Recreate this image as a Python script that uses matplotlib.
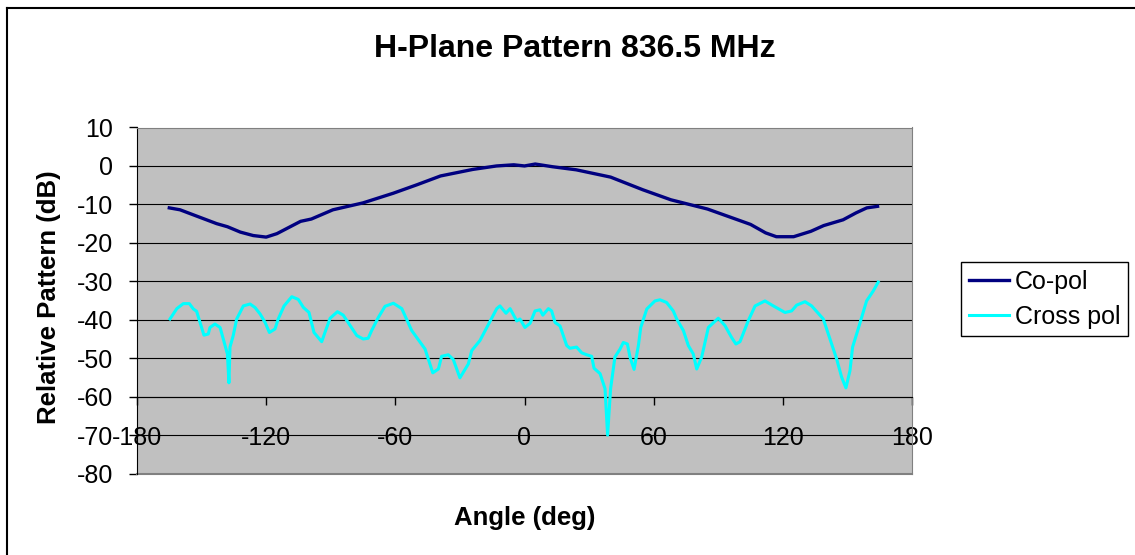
import numpy as np
import matplotlib
matplotlib.use("Agg")
import matplotlib.pyplot as plt
from matplotlib.lines import Line2D

plt.rcParams['font.family'] = ['Liberation Sans', 'DejaVu Sans']
plt.rcParams['axes.unicode_minus'] = False

# co-pol
co_ang = [-165, -160, -152, -143, -138, -132, -126, -120, -115, -104, -99, -89,
          -75, -61, -50, -39, -24, -13, -5, 0, 5, 13, 24, 40, 55, 68, 85,
          105, 112, 117, 125, 133, 139, 148, 154, 159, 164]
co_val = [-10.9, -11.4, -13.1, -15.0, -15.8, -17.2, -18.1, -18.5, -17.6, -14.4, -13.8, -11.4,
          -9.6, -7.1, -4.9, -2.6, -0.9, 0.0, 0.3, 0.0, 0.5, -0.2, -1.0, -2.9, -6.2, -8.8, -11.2,
          -15.2, -17.4, -18.4, -18.4, -17.0, -15.5, -14.0, -12.2, -10.9, -10.5]

# cross pol
x_ang = [-164.7, -161.5, -158.5, -155.7, -153.8, -152.3, -150.7, -148.9, -146.9, -146.1,
         -143.8, -141.4, -139.9, -138.0, -137.3, -136.8, -135.3, -133.7, -130.6, -127.5,
         -125.2, -122.8, -120.5, -118.5, -115.9, -114.4, -111.7, -108.1, -105.1, -102.7,
         -100.1, -97.8, -94.2, -92.7, -90.3, -86.9, -84.2, -81.0, -77.9, -74.9,
         -72.6, -71.0, -67.9, -64.8, -60.9, -57.0, -52.4, -46.2, -42.6, -40.0,
         -38.5, -35.4, -33.1, -30.0, -26.1, -24.5, -20.7, -16.1, -12.9, -11.4,
         -8.6, -6.7, -3.6, -2.1, 0.2, 2.6, 4.9, 7.2, 8.5, 11.1,
         12.6, 14.2, 16.5, 19.6, 21.1, 24.2, 26.6, 28.9, 31.2, 32.3,
         35.1, 37.4, 38.6, 40.0, 42.0, 44.4, 45.9, 47.8, 49.0, 50.9,
         52.9, 54.0, 56.8, 60.6, 62.9, 66.0, 69.1, 70.7, 73.8, 76.1,
         78.4, 80.0, 82.3, 85.4, 90.0, 93.1, 96.2, 98.2, 100.1, 103.9,
         107.1, 111.7, 115.6, 121.0, 124.1, 126.4, 130.3, 133.4, 138.8, 141.9,
         145.0, 147.3, 149.3, 151.2, 152.4, 155.0, 158.9, 162.0, 164.3]
x_val = [-39.8, -37.1, -35.8, -35.8, -37.2, -37.8, -40.7, -44.0, -43.7, -42.0,
         -41.1, -42.0, -45.0, -48.9, -56.4, -47.1, -44.1, -39.8, -36.4, -35.9,
         -36.8, -38.5, -40.7, -43.3, -42.4, -39.8, -36.4, -34.0, -34.7, -36.8,
         -38.1, -43.3, -45.7, -43.3, -39.6, -37.9, -38.8, -41.5, -44.1, -45.0,
         -44.8, -42.8, -39.4, -36.5, -35.7, -37.1, -42.8, -47.6, -53.8, -52.8,
         -49.5, -49.1, -50.3, -55.1, -51.5, -48.0, -45.4, -40.5, -37.1, -36.4,
         -38.3, -37.1, -40.3, -39.8, -42.0, -40.9, -37.7, -37.4, -38.8, -37.1,
         -37.7, -40.7, -41.6, -46.7, -47.4, -47.1, -48.6, -49.1, -49.5, -52.6,
         -54.0, -57.9, -70.0, -57.9, -49.7, -47.6, -45.9, -46.3, -49.7, -52.9,
         -46.7, -42.0, -37.2, -35.1, -34.8, -35.5, -37.7, -39.8, -42.8, -46.7,
         -48.9, -52.8, -49.7, -42.0, -39.6, -41.5, -44.6, -46.3, -45.7, -40.3,
         -36.4, -35.1, -36.4, -38.1, -37.7, -36.2, -35.3, -36.4, -39.8, -45.0,
         -50.2, -54.9, -57.7, -53.2, -47.1, -42.4, -35.1, -32.5, -30.2]

xticks = [-180, -120, -60, 0, 60, 120, 180]
yticks = [10, 0, -10, -20, -30, -40, -50, -60, -70, -80]

fig = plt.figure(figsize=(11.35, 5.55), dpi=100)
ax = fig.add_axes([137/1135, 1-473.6/555, 775/1135, 346.1/555])
ax.set_facecolor('#C0C0C0')

# horizontal grid lines (inner ones)
for v in yticks[1:-1]:
    ax.axhline(v, color='black', lw=0.8, zorder=1)

ax.plot(co_ang, co_val, color='#000080', lw=2.4, label='Co-pol', zorder=3)
ax.plot(x_ang, x_val, color='#00FFFF', lw=2.2, label='Cross pol', zorder=3)

ax.set_xlim(-180, 180)
ax.set_ylim(-80, 10)
ax.set_xticks(xticks)
ax.set_yticks(yticks)

# excel style: x axis crosses at -60
ax.spines['bottom'].set_position(('data', -60))
ax.spines['bottom'].set_color('black')
ax.spines['left'].set_color('black')
ax.spines['top'].set_color('#808080')
ax.spines['right'].set_color('#808080')
ax.axhline(-80, color='#808080', lw=1.5, clip_on=False, zorder=2)

ax.tick_params(axis='x', direction='out', length=6, width=1, labelsize=18, pad=15)
ax.tick_params(axis='y', direction='out', length=6, width=1, labelsize=18, pad=11)

fig.text(575/1135, 1-56.7/555, 'H-Plane Pattern 836.5 MHz', ha='center', va='baseline',
         fontsize=23, fontweight='bold')
fig.text(525/1135, 1-525/555, 'Angle (deg)', ha='center', va='baseline',
         fontsize=18.5, fontweight='bold')
fig.text(49.4/1135, 1-297.5/555, 'Relative Pattern (dB)', ha='center', va='center',
         rotation=90, fontsize=18.5, fontweight='bold')

leg = fig.legend(loc='upper left', bbox_to_anchor=(961/1135, 1-262/555),
                 fontsize=18, frameon=True, fancybox=False, edgecolor='black',
                 framealpha=1, borderpad=0.3, labelspacing=0.45, handlelength=1.6,
                 handletextpad=0.25, borderaxespad=0)
leg.get_frame().set_linewidth(1.0)

# outer chart border (top and left visible)
fig.add_artist(Line2D([7/1135, 1], [1-7.5/555, 1-7.5/555], color='black', lw=1.5))
fig.add_artist(Line2D([7/1135, 7/1135], [0, 1-7.5/555], color='black', lw=1.5))

fig.savefig('out.png', dpi=100)
